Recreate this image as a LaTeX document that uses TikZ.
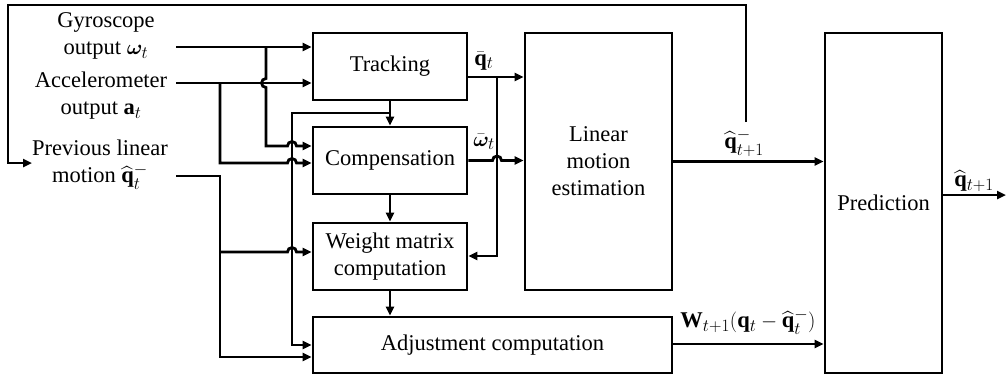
\documentclass[tikz,border=0pt]{standalone}
\usepackage{amsmath,bm}
\usepackage{fontspec}
\setmainfont{Liberation Serif}
\DeclareMathSizes{22.5}{22.5}{18}{14}
\usetikzlibrary{arrows.meta}

\begin{document}
\begin{tikzpicture}[x=1pt,y=-1pt,
  every node/.style={font=\fontsize{22.5}{27}\selectfont},
  blk/.style={draw, line width=2.8pt, inner sep=0pt, align=center},
  smallblk/.style={blk, minimum width=154pt, minimum height=67pt},
  wire/.style={line width=2.8pt},
  arr/.style={wire, -{Triangle[length=9pt,width=8pt]}},
  lbl/.style={align=center, inner sep=0pt},
]
\useasboundingbox (0,0) rectangle (1008,376);

% processing blocks
\node[smallblk] (track)  at (390,66.5)  {Tracking};
\node[smallblk] (comp)   at (390,160.5) {Compensation};
\node[smallblk] (weight) at (390,256.5) {Weight matrix\\computation};
\node[blk, minimum width=359pt, minimum height=56pt]  (adj)  at (492.5,345) {Adjustment computation};
\node[blk, minimum width=147pt, minimum height=257pt] (lin)  at (598.5,161.5) {Linear\\motion\\estimation};
\node[blk, minimum width=117pt, minimum height=340pt] (pred) at (883.5,203) {Prediction};

% sensor inputs
\node[lbl] (gyro) at (106,36)  {Gyroscope\\output $\bm{\omega}_t$};
\node[lbl] (acc)  at (101,96)  {Accelerometer\\output $\mathbf{a}_t$};
\node[lbl] (prev) at (100,165) {Previous linear\\motion $\widehat{\mathbf{q}}_t^{-}$};

\coordinate (g0) at (176,47);
\coordinate (a0) at (176,83);
\coordinate (p0) at (176,176);
\coordinate (fb) at (746,122);
\coordinate (out) at (1006,195);

% inputs to tracking
\draw[arr] (g0) -- (g0 -| track.west);
\draw[arr] (a0) -- (a0 -| track.west);

% inputs to compensation (hop over crossing wires)
\draw[arr] (266,47) -- (266,78.5) arc[start angle=90,end angle=270,radius=4.5pt]
  -- (266,146) -- (287.5,146) arc[start angle=180,end angle=0,radius=4.5pt]
  -- (comp.west |- 0,146);
\draw[arr] (220,83) -- (220,163) -- (287.5,163) arc[start angle=180,end angle=0,radius=4.5pt]
  -- (comp.west |- 0,163);
\draw[arr] (track.south) -- (comp.north);

% tracking result to adjustment
\draw[arr] (390,113) -- (292,113) -- (292,345) -- (adj.west |- 0,345);

% previous linear motion to weight matrix and adjustment
\draw[arr] (p0) -- (220,176) -- (220,357) -- (adj.west |- 0,357);
\draw[arr] (220,252) -- (287.5,252) arc[start angle=180,end angle=0,radius=4.5pt]
  -- (weight.west |- 0,252);

\draw[arr] (comp.south) -- (weight.north);
\draw[arr] (weight.south) -- (weight.south |- adj.north);

% outputs to linear motion estimation
\draw[arr] (track.east |- 0,77) -- (lin.west |- 0,77);
\draw[arr] (497,77) -- (497,256) -- (weight.east |- 0,256);
\draw[arr] (comp.east) -- (492.5,160.5) arc[start angle=180,end angle=0,radius=4.5pt]
  -- (lin.west |- comp.east);
\node[lbl] (qbar) at (484,61) {$\bar{\mathbf{q}}_t$};
\node[lbl] (wbar) at (484,142) {$\bar{\bm{\omega}}_t$};

% estimation and prediction
\draw[arr] (lin.east) -- (pred.west |- lin.east);
\node[lbl] (qm) at (744,143) {$\widehat{\mathbf{q}}_{t+1}^{-}$};
\draw[arr] (fb) -- (746,5) -- (8,5) -- (8,163) -- (prev.west |- 0,163);

\draw[arr] (adj.east |- 0,344) -- (pred.west |- 0,344);
\node[lbl] (wl) at (748,322) {$\mathbf{W}_{t+1}(\mathbf{q}_t-\widehat{\mathbf{q}}_t^{-})$};

\draw[arr] (pred.east |- out) -- (out);
\node[lbl] (qo) at (974,181) {$\widehat{\mathbf{q}}_{t+1}$};
\end{tikzpicture}
\end{document}
